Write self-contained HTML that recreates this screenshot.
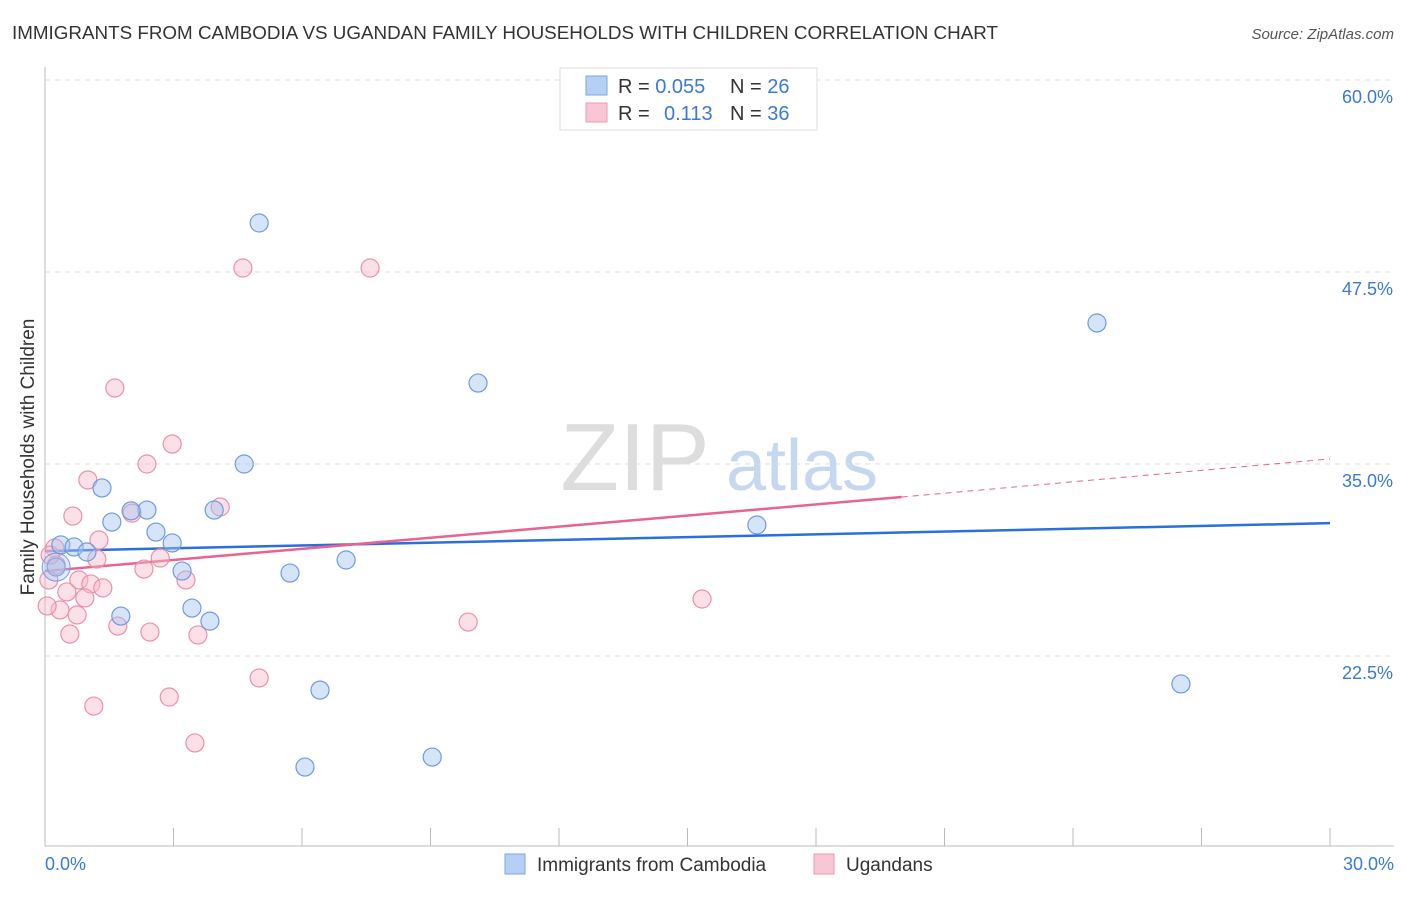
<!DOCTYPE html>
<html><head><meta charset="utf-8"><style>
body{margin:0;background:#fff;font-family:"Liberation Sans",sans-serif;}
svg text{font-family:"Liberation Sans",sans-serif;}
</style></head><body>
<svg id="chart" width="1406" height="892">
<text x="12" y="39" font-size="18" fill="#333" textLength="986" lengthAdjust="spacingAndGlyphs">IMMIGRANTS FROM CAMBODIA VS UGANDAN FAMILY HOUSEHOLDS WITH CHILDREN CORRELATION CHART</text>
<text x="1394" y="39" font-size="15" fill="#555" font-style="italic" text-anchor="end">Source: ZipAtlas.com</text>
<text x="34" y="457" font-size="19" fill="#333" text-anchor="middle" transform="rotate(-90 34 457)">Family Households with Children</text>
<g><text x="635" y="490" font-size="96" fill="#ddd" font-family="Liberation Serif" text-anchor="middle">ZIP</text><text x="802" y="490" font-size="72" fill="#c6d8f0" text-anchor="middle">atlas</text></g>
<g id="grid"></g><g id="axes"></g><g id="lines"></g><g id="pts"></g>
<g>
<rect x="560" y="68" width="257" height="62" fill="#fff" stroke="#ddd"/>
<rect x="586" y="76" width="21" height="19" fill="#b5d0f5" stroke="#7ea6e0"/>
<rect x="586" y="103" width="21" height="19" fill="#f9c6d5" stroke="#ec9ab4"/>
<text x="618" y="93" font-size="20" fill="#333">R = <tspan fill="#3b78d8">0.055</tspan><tspan x="730">N = </tspan><tspan fill="#3b78d8">26</tspan></text>
<text x="618" y="120" font-size="20" fill="#333">R = <tspan x="664" fill="#3b78d8">0.113</tspan><tspan x="730">N = </tspan><tspan fill="#3b78d8">36</tspan></text>
</g>
<g>
<rect x="505" y="854" width="20" height="20" fill="#b5d0f5" stroke="#7ea6e0"/>
<text x="537" y="871" font-size="19" fill="#333">Immigrants from Cambodia</text>
<rect x="814" y="854" width="20" height="20" fill="#f9c6d5" stroke="#ec9ab4"/>
<text x="846" y="871" font-size="19" fill="#333">Ugandans</text>
</g>
</svg>
<script>
const blueX=[5.00,24.56,10.11,4.65,1.33,2.38,2.01,3.95,1.56,2.59,2.97,0.37,0.68,0.98,3.20,5.72,7.03,0.26,16.62,3.43,1.77,3.85,6.42,26.52,9.04,6.07];
const blueY=[50.69,44.18,40.27,35.0,33.44,32.0,31.95,32.0,31.22,30.57,29.86,29.73,29.6,29.27,28.03,27.9,28.75,28.29,31.03,25.62,25.1,24.77,20.28,20.68,15.92,15.27];
const pinkX=[4.62,7.59,1.63,2.97,2.38,1.0,4.09,0.65,2.03,1.26,2.69,1.21,0.23,0.26,2.31,0.79,3.29,1.07,1.35,0.51,0.09,0.93,0.35,0.75,0.05,1.70,2.45,0.58,3.57,9.88,15.34,5.0,2.90,1.14,3.50,0.12];
const pinkY=[47.76,47.76,39.95,36.3,35.0,33.96,32.2,31.61,31.8,30.05,28.88,28.81,29.53,28.42,28.16,27.45,27.45,27.19,26.93,26.67,27.45,26.28,25.5,25.17,25.76,24.45,24.06,23.93,23.87,24.71,26.21,21.07,19.83,19.24,16.84,29.07];
const yTicks=[60,47.5,35,22.5];
const blueTrend=[29.33,31.15];
const pinkTrend=[28.03,32.85,35.33];
const pinkSolidEnd=20;
const NS="http://www.w3.org/2000/svg";
const xs=v=>45+v*42.833, ys=v=>80+(60-v)*15.36;
function mk(p,t,a){const e=document.createElementNS(NS,t);for(const k in a)e.setAttribute(k,a[k]);p.appendChild(e);return e;}
const grid=document.getElementById('grid'),axes=document.getElementById('axes'),lines=document.getElementById('lines'),pts=document.getElementById('pts');
yTicks.forEach(t=>{const l=mk(grid,'line',{x1:45,x2:1394,y1:ys(t),y2:ys(t),stroke:'#ddd','stroke-dasharray':'5,5'});


const tx=mk(axes,'text',{x:1393,y:ys(t)+23,'font-size':18,fill:'#3b78d8','text-anchor':'end'});tx.textContent=t.toFixed(1)+'%';

});
mk(axes,'line',{x1:45,x2:45,y1:67,y2:846,stroke:'#bbb'});
mk(axes,'line',{x1:45,x2:1394,y1:846,y2:846,stroke:'#bbb'});
for(let i=0;i<=10;i++){mk(axes,'line',{x1:xs(i*3),x2:xs(i*3),y1:828,y2:846,stroke:'#bbb'});}
const x0=mk(axes,'text',{x:45,y:870,'font-size':18,fill:'#3b78d8'});x0.textContent='0.0%';


const x1=mk(axes,'text',{x:1394,y:870,'font-size':18,fill:'#3b78d8','text-anchor':'end'});x1.textContent='30.0%';


function dots(X,Y,fill,stroke,name){X.forEach((x,i)=>{const c=mk(pts,'circle',{cx:xs(x),cy:ys(Y[i]),r:9,fill:fill,stroke:stroke,'stroke-width':1.2});

});}
dots(pinkX,pinkY,'rgba(248,186,204,0.45)','#e991ab','ugandans-point');
dots(blueX,blueY,'rgba(164,196,240,0.45)','#6e9be0','cambodia-point');
const big=mk(pts,'circle',{cx:xs(0.26),cy:ys(28.29),r:14,fill:'rgba(164,196,240,0.35)',stroke:'#6e9be0'});


const bl=mk(lines,'line',{x1:xs(0),y1:ys(blueTrend[0]),x2:xs(30),y2:ys(blueTrend[1]),stroke:'#2a6fdb','stroke-width':2.5});


const pl=mk(lines,'line',{x1:xs(0),y1:ys(pinkTrend[0]),x2:xs(pinkSolidEnd),y2:ys(pinkTrend[1]),stroke:'#e8638f','stroke-width':2.5});


const pd=mk(lines,'line',{x1:xs(pinkSolidEnd),y1:ys(pinkTrend[1]),x2:xs(30),y2:ys(pinkTrend[2]),stroke:'#e8638f','stroke-width':1,'stroke-dasharray':'6,5'});


</script>
</body></html>
